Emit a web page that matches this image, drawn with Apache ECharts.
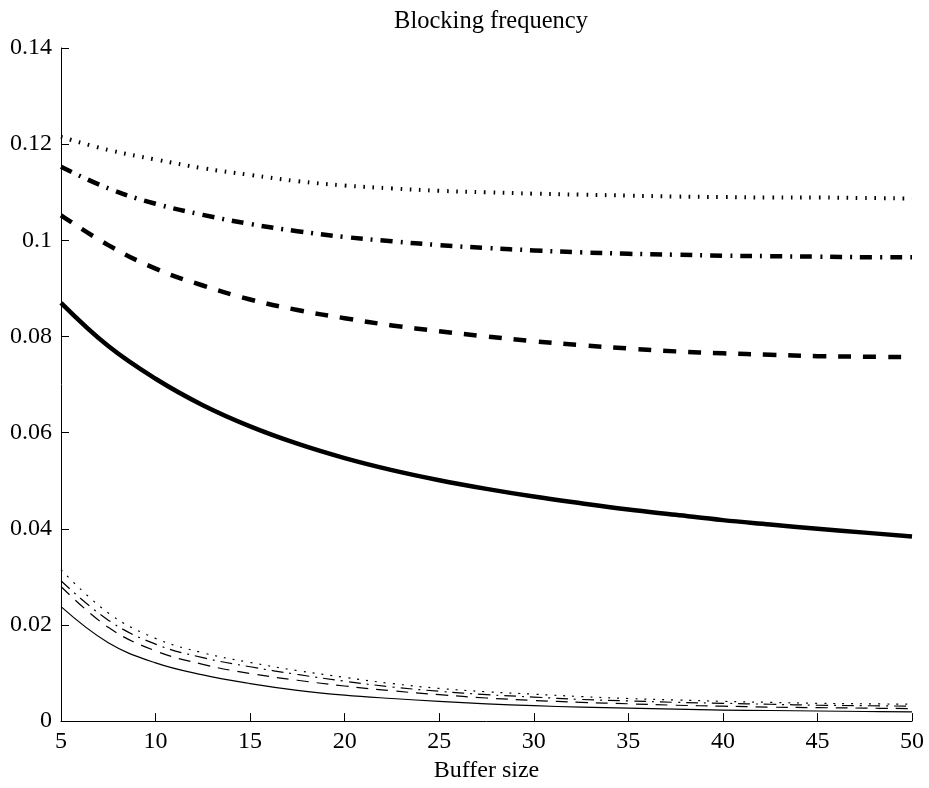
<!DOCTYPE html>
<html>
<head>
<meta charset="utf-8">
<script src="https://cdn.jsdelivr.net/npm/echarts@6/dist/echarts.min.js"></script>
<style>html,body{margin:0;padding:0;background:#fff;}#chart{width:929px;height:788px;}</style>
</head>
<body>
<div id="chart"></div>
<script>
var bufferSize = [5, 7.5, 10, 12.5, 15, 17.5, 20, 22.5, 25, 27.5, 30, 32.5, 35, 37.5, 40, 42.5, 45, 47.5, 50];
var xTicks = [5, 10, 15, 20, 25, 30, 35, 40, 45, 50];
var yTicks = [0, 0.02, 0.04, 0.06, 0.08, 0.1, 0.12, 0.14];

var thickSolid   = [0.0870, 0.0780, 0.0712, 0.0657, 0.0613, 0.0577, 0.0547, 0.0522, 0.0501, 0.0483, 0.0467, 0.0453, 0.0440, 0.0429, 0.0418, 0.0409, 0.0400, 0.0392, 0.0384];
var thickDashed  = [0.1052, 0.0990, 0.0941, 0.0906, 0.0877, 0.0855, 0.0838, 0.0823, 0.0811, 0.0800, 0.0790, 0.0782, 0.0775, 0.0769, 0.0765, 0.0762, 0.0759, 0.0758, 0.0757];
var thickDashDot = [0.1153, 0.1108, 0.1076, 0.1053, 0.1034, 0.1019, 0.1007, 0.0998, 0.0990, 0.0984, 0.0979, 0.0975, 0.0972, 0.0970, 0.0968, 0.0967, 0.0966, 0.0965, 0.0965];
var thickDotted  = [0.1215, 0.1188, 0.1168, 0.1150, 0.1136, 0.1123, 0.1114, 0.1108, 0.1103, 0.1100, 0.1097, 0.1095, 0.1093, 0.1091, 0.1090, 0.1089, 0.1089, 0.1088, 0.1087];

var thinSolid    = [0.0238, 0.0163, 0.0121, 0.0096, 0.0078, 0.0064, 0.0054, 0.0047, 0.0041, 0.0036, 0.0032, 0.0029, 0.0027, 0.0025, 0.0023, 0.0022, 0.0021, 0.0020, 0.0019];
var thinDashed   = [0.0280, 0.0195, 0.0146, 0.0118, 0.0099, 0.0085, 0.0073, 0.0063, 0.0055, 0.0048, 0.0043, 0.0039, 0.0036, 0.0033, 0.0031, 0.0029, 0.0028, 0.0027, 0.0026];
var thinDashDot  = [0.0292, 0.0210, 0.0160, 0.0132, 0.0113, 0.0097, 0.0083, 0.0071, 0.0062, 0.0055, 0.0050, 0.0045, 0.0042, 0.0039, 0.0037, 0.0035, 0.0033, 0.0032, 0.0031];
var thinDotted   = [0.0315, 0.0225, 0.0172, 0.0142, 0.0122, 0.0105, 0.0091, 0.0078, 0.0068, 0.0061, 0.0056, 0.0051, 0.0047, 0.0044, 0.0041, 0.0039, 0.0037, 0.0036, 0.0035];

function pairs(ys) { return bufferSize.map(function (x, i) { return [x, ys[i]]; }); }

function mk(name, ys, width, type) {
  return {
    name: name, type: 'line', data: pairs(ys), smooth: 0.4,
    showSymbol: false, symbol: 'none', animation: false, silent: true,
    lineStyle: { color: '#000', width: width, type: type, cap: 'butt', join: 'round' }
  };
}

var FONT = 'Liberation Serif';
var chart = echarts.init(document.getElementById('chart'));
chart.setOption({
  animation: false,
  backgroundColor: '#fff',
  title: {
    text: 'Blocking frequency', left: 486, top: 4, textAlign: 'center',
    textStyle: { fontFamily: FONT, fontSize: 24.5, fontWeight: 'normal', color: '#000' }
  },
  grid: { left: 61, right: 17, top: 48, bottom: 66, containLabel: false },
  xAxis: {
    type: 'value', min: 5, max: 50, interval: 5,
    name: 'Buffer size', nameLocation: 'middle', nameGap: 32,
    nameTextStyle: { fontFamily: FONT, fontSize: 24, color: '#000' },
    axisLine: { lineStyle: { color: '#000', width: 1 } },
    axisTick: { inside: true, length: 8, lineStyle: { color: '#000' } },
    axisLabel: { fontFamily: FONT, fontSize: 24, color: '#000', margin: 9,
      formatter: function (v) { return xTicks.indexOf(v) >= 0 ? String(v) : ''; } },
    splitLine: { show: false }
  },
  yAxis: {
    type: 'value', min: 0, max: 0.14, interval: 0.02,
    axisLine: { show: true, lineStyle: { color: '#000', width: 1 } },
    axisTick: { show: true, inside: true, length: 8, lineStyle: { color: '#000' } },
    axisLabel: { fontFamily: FONT, fontSize: 24, color: '#000', margin: 9,
      formatter: function (v) {
        for (var i = 0; i < yTicks.length; i++) { if (Math.abs(yTicks[i] - v) < 1e-9) return String(yTicks[i]); }
        return '';
      } },
    splitLine: { show: false }
  },
  series: [
    mk('thick solid', thickSolid, 4.5, 'solid'),
    mk('thick dashed', thickDashed, 4.5, [13, 12]),
    mk('thick dash-dot', thickDashDot, 4.5, [12, 8, 2, 8]),
    mk('thick dotted', thickDotted, 4, [1.6, 7.7]),
    mk('thin solid', thinSolid, 1.2, 'solid'),
    mk('thin dashed', thinDashed, 1.2, [12, 8]),
    mk('thin dash-dot', thinDashDot, 1.2, [12, 6, 2, 6]),
    mk('thin dotted', thinDotted, 1.2, [2, 7])
  ]
});
</script>
</body>
</html>
